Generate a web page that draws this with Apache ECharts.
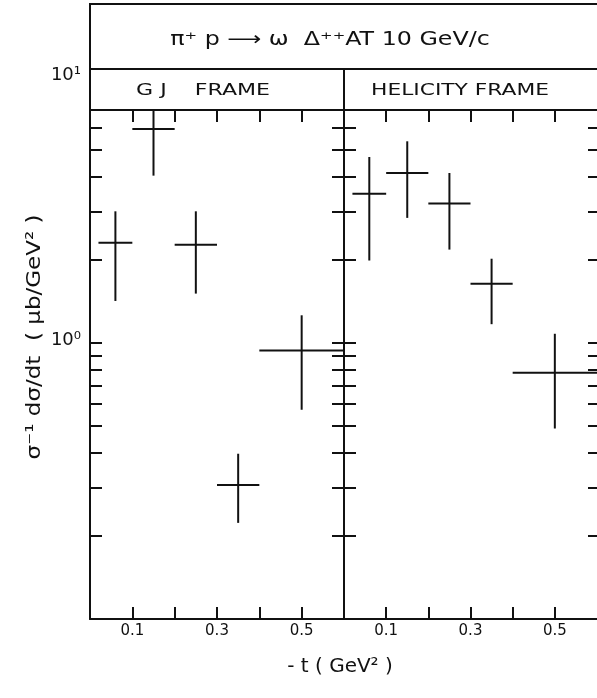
<!DOCTYPE html>
<html>
<head>
<meta charset="utf-8">
<script src="https://cdn.jsdelivr.net/npm/echarts@6/dist/echarts.min.js"></script>
<style>
html,body{margin:0;padding:0;background:#fff;}
#chart{width:597px;height:698px;}
</style>
</head>
<body>
<div id="chart"></div>
<script>
// ---- data ----
const gjT       = [0.06, 0.15, 0.25, 0.35, 0.50];
const gjTLow    = [0.02, 0.10, 0.20, 0.30, 0.40];
const gjTHigh   = [0.10, 0.20, 0.30, 0.40, 0.60];
const gjVal     = [2.31, 5.96, 2.27, 0.306, 0.94];
const gjErrLow  = [1.42, 4.04, 1.51, 0.223, 0.573];
const gjErrHigh = [3.00, 8.50, 3.00, 0.397, 1.26];

const helT       = [0.06, 0.15, 0.25, 0.35, 0.50];
const helTLow    = [0.02, 0.10, 0.20, 0.30, 0.40];
const helTHigh   = [0.10, 0.20, 0.30, 0.40, 0.60];
const helVal     = [3.47, 4.13, 3.20, 1.64, 0.78];
const helErrLow  = [1.99, 2.84, 2.18, 1.17, 0.49];
const helErrHigh = [4.72, 5.38, 4.13, 2.02, 1.08];

const xTicks = [0.1, 0.2, 0.3, 0.4, 0.5];
const xTickLabels = [0.1, 0.3, 0.5];
const yTicks = [0.2, 0.3, 0.4, 0.5, 0.6, 0.7, 0.8, 0.9, 1, 2, 3, 4, 5, 6];
const yTickLabels = [1, 10];

const titleText = 'π⁺ p ⟶ ω  Δ⁺⁺AT 10 GeV/c';
const panelNames = ['G J    FRAME', 'HELICITY FRAME'];
const yName = 'σ⁻¹ dσ/dt  ( μb/GeV² )';
const xName = '- t ( GeV² )';

// ---- chart ----
const FONT = 'DejaVu Sans';
const INK = '#111';
const chart = echarts.init(document.getElementById('chart'), null, {renderer: 'canvas'});

function rows(t, lo, hi, v, el, eh) {
  return t.map((x, i) => [x, lo[i], hi[i], v[i], el[i], eh[i]]);
}

function errRender(params, api) {
  const x = api.value(0), xl = api.value(1), xh = api.value(2);
  const y = api.value(3), yl = api.value(4), yh = api.value(5);
  const a = api.coord([xl, y]), b = api.coord([xh, y]);
  const c = api.coord([x, yl]), d = api.coord([x, yh]);
  const st = {stroke: INK, lineWidth: 2};
  return {type: 'group', children: [
    {type: 'line', shape: {x1: a[0], y1: a[1], x2: b[0], y2: b[1]}, style: st},
    {type: 'line', shape: {x1: c[0], y1: c[1], x2: d[0], y2: d[1]}, style: st}
  ]};
}

const gridTop = 67, gridH = 552, headerH = 43;
const grids = [
  {left: 90, top: gridTop, width: 254, height: gridH},
  {left: 344, top: gridTop, width: 256, height: gridH}
];

const lineSt = {color: INK, width: 2};
const xAxes = [], yAxes = [];
[0, 1].forEach(g => {
  xAxes.push({
    gridIndex: g, type: 'value', min: 0, max: 0.6, interval: 0.1, position: 'bottom',
    axisLine: {show: true, lineStyle: lineSt},
    axisTick: {show: true, inside: true, length: 12, lineStyle: lineSt, customValues: xTicks},
    axisLabel: {show: true, customValues: xTickLabels, margin: 5, color: INK, fontFamily: FONT, fontSize: 15,
      formatter: v => v.toFixed(1)},
    splitLine: {show: false}
  });
  xAxes.push({
    gridIndex: g, type: 'value', min: 0, max: 0.6, interval: 0.1, position: 'top', offset: -headerH,
    axisLine: {show: true, lineStyle: lineSt},
    axisTick: {show: true, inside: true, length: 12, lineStyle: lineSt, customValues: xTicks},
    axisLabel: {show: false}, splitLine: {show: false}
  });
  yAxes.push({
    gridIndex: g, type: 'log', logBase: 10, min: 0.1, max: 10, position: 'left',
    axisLine: {show: true, lineStyle: lineSt},
    axisTick: {show: true, inside: true, length: 12, lineStyle: lineSt, customValues: yTicks},
    axisLabel: {show: g === 0, customValues: yTickLabels, margin: 9, color: INK, fontFamily: FONT, fontSize: 18,
      formatter: v => Math.round(Math.log10(v)) === 0 ? '{b|10⁰}' : '{a|10¹}',
      rich: {a: {fontSize: 18, fontFamily: FONT, color: INK, padding: [16, 0, 0, 0]},
             b: {fontSize: 18, fontFamily: FONT, color: INK, padding: [0, 0, 6, 0]}}},
    splitLine: {show: false}
  });
  // frame on the right-hand side of each panel, ticks pointing into the panel
  yAxes.push({
    gridIndex: g, type: 'log', logBase: 10, min: 0.1, max: 10, position: 'left',
    offset: -grids[g].width,
    axisLine: {show: true, lineStyle: lineSt},
    axisTick: {show: true, inside: false, length: 12, lineStyle: lineSt, customValues: yTicks},
    axisLabel: {show: false}, splitLine: {show: false}
  });
});

const option = {
  backgroundColor: '#fff',
  animation: false,
  textStyle: {fontFamily: FONT},
  grid: grids,
  xAxis: xAxes,
  yAxis: yAxes,
  series: [
    {type: 'custom', xAxisIndex: 0, yAxisIndex: 0, renderItem: errRender,
     data: rows(gjT, gjTLow, gjTHigh, gjVal, gjErrLow, gjErrHigh), z: 3},
    {type: 'custom', xAxisIndex: 2, yAxisIndex: 2, renderItem: errRender,
     data: rows(helT, helTLow, helTHigh, helVal, helErrLow, helErrHigh), z: 3}
  ],
  graphic: [
    {type: 'rect', z: 100, shape: {x: 90, y: 4, width: 530, height: 65},
     style: {fill: '#fff', stroke: INK, lineWidth: 2}},
    {type: 'rect', z: 100, shape: {x: 90, y: 69, width: 530, height: 41},
     style: {fill: '#fff', stroke: INK, lineWidth: 2}},
    {type: 'line', z: 101, shape: {x1: 344, y1: 69, x2: 344, y2: 110},
     style: {stroke: INK, lineWidth: 2}},
    {type: 'text', z: 102, x: 330, y: 40, scaleX: 1.25,
     style: {text: titleText, fill: INK, font: '19px "DejaVu Sans"', textAlign: 'center', textVerticalAlign: 'middle'}},
    {type: 'text', z: 102, x: 203, y: 91, scaleX: 1.38,
     style: {text: panelNames[0], fill: INK, font: '16px "DejaVu Sans"', textAlign: 'center', textVerticalAlign: 'middle'}},
    {type: 'text', z: 102, x: 460, y: 91, scaleX: 1.36,
     style: {text: panelNames[1], fill: INK, font: '16px "DejaVu Sans"', textAlign: 'center', textVerticalAlign: 'middle'}},
    {type: 'text', z: 102, x: 35, y: 337, rotation: Math.PI / 2, scaleX: 1.15,
     style: {text: yName, fill: INK, font: '20px "DejaVu Sans"', textAlign: 'center', textVerticalAlign: 'middle'}},
    {type: 'text', z: 102, x: 340, y: 667,
     style: {text: xName, fill: INK, font: '20px "DejaVu Sans"', textAlign: 'center', textVerticalAlign: 'middle'}}
  ]
};
chart.setOption(option);
</script>
</body>
</html>
